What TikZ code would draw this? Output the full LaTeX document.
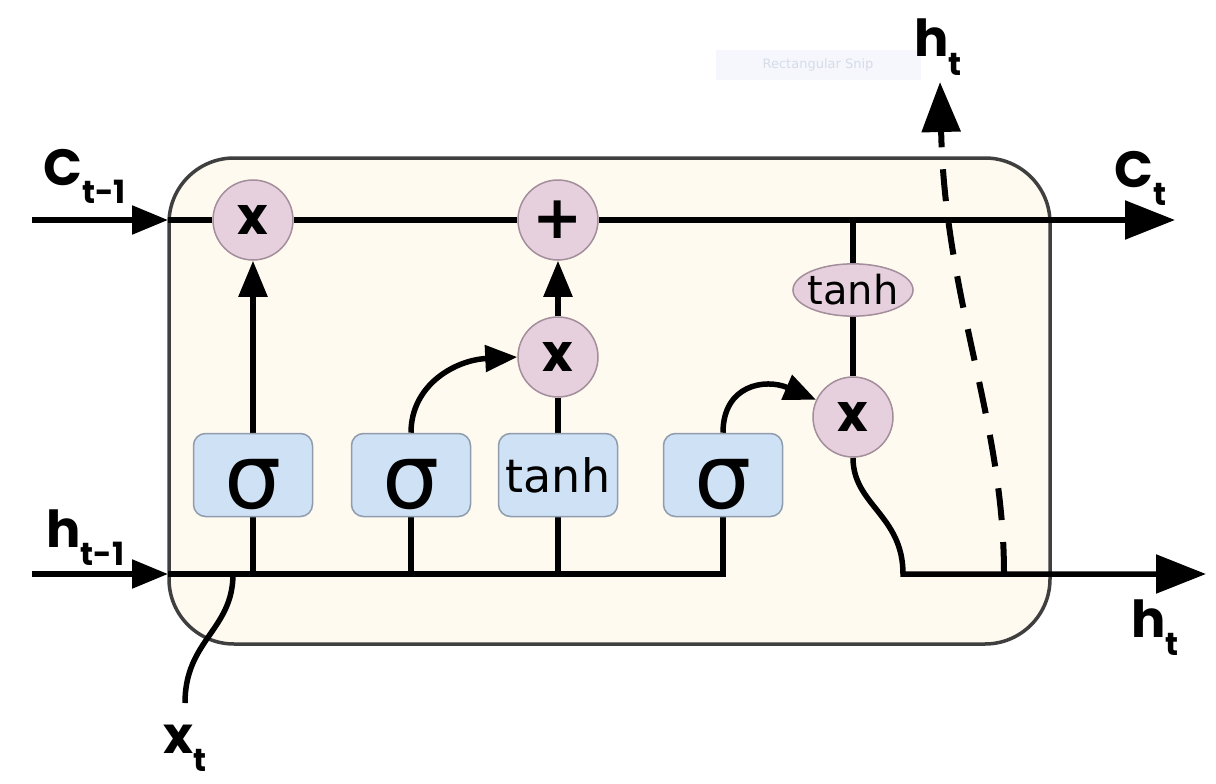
\documentclass[tikz,border=0pt]{standalone}
\usepackage{fontspec}
\setmainfont{DejaVu Sans}
\newfontfamily\labfont{Poppins}
\usetikzlibrary{arrows.meta,calc,shapes.geometric}
\definecolor{cream}{HTML}{FFFAEF}
\definecolor{boxedge}{HTML}{3F3F3F}
\definecolor{opfill}{HTML}{E7D0DE}
\definecolor{opedge}{HTML}{A38E9C}
\definecolor{gatefill}{HTML}{CFE1F4}
\definecolor{gateedge}{HTML}{8E9CAD}
\definecolor{snipfill}{HTML}{F5F7FC}
\definecolor{sniptext}{HTML}{D6DCE7}
\pgfdeclarelayer{back}
\pgfdeclarelayer{wires}
\pgfsetlayers{back,wires,main}
\newcommand{\lstlab}[2]{{\labfont\bfseries\fontsize{51}{51}\selectfont #1\raisebox{-18pt}{\fontsize{32}{32}\selectfont #2}}}
\begin{document}
\begin{tikzpicture}[x=1pt,y=-1pt,
 wire/.style={line width=5.5pt,draw=black},
 sarr/.style={-{Triangle[length=36pt,width=28pt]}},
 barr/.style={-{Triangle[length=50pt,width=38pt]}},
 carr/.style={-{Triangle[length=32pt,width=26pt]}},
 op/.style={circle,fill=opfill,draw=opedge,line width=1.5pt,minimum size=80pt,inner sep=0pt},
 opx/.style={op,font=\labfont\bfseries\fontsize{52}{52}\selectfont},
 opplus/.style={op,font=\bfseries\fontsize{60}{60}\selectfont},
 gate/.style={rectangle,rounded corners=12pt,fill=gatefill,draw=gateedge,line width=1.5pt,minimum width=119pt,minimum height=83pt,inner sep=0pt},
 sig/.style={gate,font=\fontsize{90}{90}\selectfont,text height=66pt,text depth=0pt},
 tg/.style={gate,font=\fontsize{46}{46}\selectfont},
 lab/.style={anchor=base west,inner sep=0pt}
]
\useasboundingbox (0,0) rectangle (1216,784);
\begin{pgfonlayer}{back}
\fill[white] (0,0) rectangle (1216,784);
\draw[fill=cream,draw=boxedge,line width=3.5pt,rounded corners=65pt] (169,158) rectangle (1050,644);
\end{pgfonlayer}

\node[fill=snipfill,minimum width=205pt,minimum height=30pt,inner sep=0pt,text=sniptext,font=\fontsize{13}{13}\selectfont] (snip) at (818,65) {Rectangular Snip};

\node[opx] (x1) at (253,220) {x};
\node[opplus] (plus) at (558,220) {+};
\node[opx] (x2) at (558,357) {x};
\node[opx] (x3) at (853,417) {x};
\node[sig] (s1) at (253,475) {σ};
\node[sig] (s2) at (411,475) {σ};
\node[tg] (tn) at (558,475) {tanh};
\node[sig] (s4) at (723,475) {σ};
\node[ellipse,fill=opfill,draw=opedge,line width=1.5pt,minimum width=120pt,minimum height=52pt,inner xsep=-3pt,inner ysep=3pt,font=\fontsize{40}{40}\selectfont] (te) at (853,290) {tanh};

\coordinate (cin) at (32,220);
\coordinate (cbox) at (168,220);
\coordinate (cout) at (1175,220);
\coordinate (hin) at (32,574);
\coordinate (hbox) at (168,574);
\coordinate (hout) at (1206,574);
\coordinate (xin) at (185,703);
\coordinate (xj) at (233,574);
\coordinate (ctap) at (853,220);
\coordinate (hbend) at (903,574);
\coordinate (dbot) at (1004,574);
\coordinate (dtop) at (940,82);

\begin{pgfonlayer}{wires}
\draw[wire,sarr] (cin) -- (cbox);
\draw[wire] (cbox) -- (x1);
\draw[wire] (x1) -- (plus);
\draw[wire,barr] (plus) -- (cout);
\draw[wire,sarr] (hin) -- (hbox);
\draw[wire] (hbox) -| (s4.south);
\draw[wire] (s1.south) -- (s1.south |- hbox);
\draw[wire] (s2.south) -- (s2.south |- hbox);
\draw[wire] (tn.south) -- (tn.south |- hbox);
\draw[wire] (xin) .. controls (185,640) and (233,630) .. (xj);
\draw[wire,sarr] (s1) -- (x1);
\draw[wire,carr] (s2.north) .. controls (411,385) and (455,360) .. (x2.west);
\draw[wire] (tn) -- (x2);
\draw[wire,sarr] (x2) -- (plus);
\draw[wire] (ctap) -- (te);
\draw[wire] (te) -- (x3);
\draw[wire,carr] (s4.north) .. controls (723,385) and (765,378) .. (x3.155);
\draw[wire,barr] (x3.south) .. controls (853,505) and (903,515) .. (hbend) -- (hout);
\draw[line width=6pt,barr,dash pattern=on 32pt off 22pt] (dbot) .. controls (1004,420) and (945,300) .. (dtop);
\end{pgfonlayer}

\node[lab] (lc) at (43,185) {\lstlab{C}{t-1}};
\node[lab] (lht) at (914,57) {\lstlab{h}{t}};
\node[lab] (lct) at (1114,187) {\lstlab{C}{t}};
\node[lab] (lhp) at (46,547) {\lstlab{h}{t-1}};
\node[lab] (lho) at (1131,637) {\lstlab{h}{t}};
\node[lab] (lx) at (163,753) {\lstlab{x}{t}};
\end{tikzpicture}
\end{document}
